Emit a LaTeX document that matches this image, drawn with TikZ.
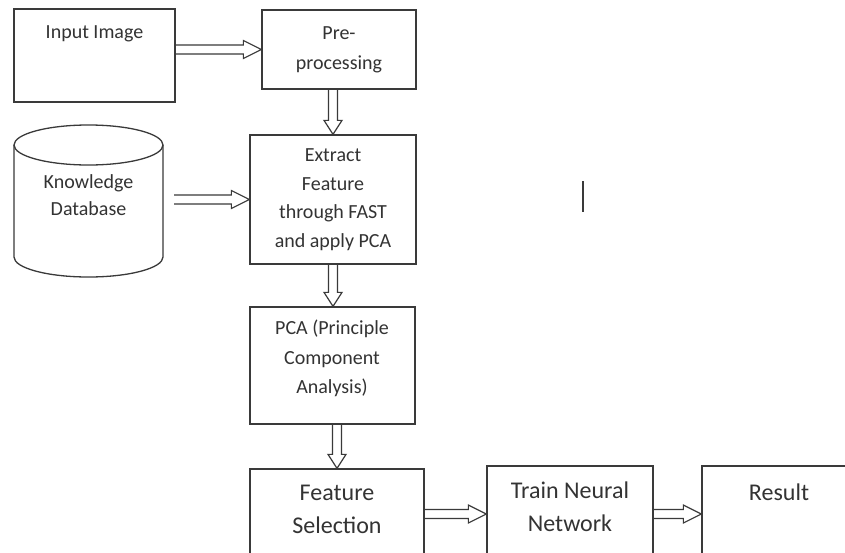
\documentclass[tikz,border=0pt]{standalone}
\usepackage{fontspec}
\setmainfont{Carlito}
\usetikzlibrary{calc}
\definecolor{ln}{HTML}{3A3A3A}
\definecolor{tx}{HTML}{333333}
\begin{document}
\begin{tikzpicture}[x=1pt,y=-1pt,
  box/.style={draw=ln, line width=1.3pt, inner sep=0pt},
  txt/.style={text=tx, font=\fontsize{20}{28.5}\selectfont, align=center, inner sep=0pt},
  big/.style={text=tx, font=\fontsize{24}{33}\selectfont, align=center, inner sep=0pt},
  arr/.style={draw=ln, line width=1.2pt, line join=miter},
  harrow/.style={to path={($(\tikztostart)+(0,-4.5)$) -- ($(\tikztotarget)+(-18,-4.5)$) -- ($(\tikztotarget)+(-18,-9)$) -- (\tikztotarget) -- ($(\tikztotarget)+(-18,9)$) -- ($(\tikztotarget)+(-18,4.5)$) -- ($(\tikztostart)+(0,4.5)$)}},
  varrow/.style={to path={($(\tikztostart)+(-4.5,0)$) -- ($(\tikztotarget)+(-4.5,-14)$) -- ($(\tikztotarget)+(-9,-14)$) -- (\tikztotarget) -- ($(\tikztotarget)+(9,-14)$) -- ($(\tikztotarget)+(4.5,-14)$) -- ($(\tikztostart)+(4.5,0)$)}}
]
\clip (0,0) rectangle (845,552);
\fill[white] (0,0) rectangle (845,552);

% boxes
\node[box, minimum width=161pt, minimum height=93pt] (in) at (94.5,55.5) {};
\node[txt] (inT) at (94.5,34) {Input Image};
\node[box, txt, minimum width=154pt, minimum height=79pt, font=\fontsize{20}{30}\selectfont] (pre) at (339,49.5) {Pre-\\processing};
\node[box, txt, minimum width=166pt, minimum height=129pt] (ext) at (333,199.5) {Extract\\Feature\\through FAST\\and apply PCA};

% knowledge database cylinder
\draw[box] (14,145) -- (14,257) arc[start angle=180, end angle=0, x radius=74.5, y radius=20] -- (163,145);
\draw[box] (88.5,145) ellipse [x radius=74.5, y radius=20];
\node[minimum width=149pt, minimum height=152pt, inner sep=0pt] (db) at (88.5,201) {};
\node[txt, font=\fontsize{20}{27}\selectfont] (dbT) at (88.5,195.5) {Knowledge\\Database};

\node[box, minimum width=165pt, minimum height=117pt] (pca) at (332.5,365.5) {};
\node[txt, font=\fontsize{20}{29.5}\selectfont] (pcaT) at (332,358.5) {PCA (Principle\\Component\\Analysis)};

\node[box, minimum width=174pt, minimum height=93pt] (fs) at (337,515.5) {};
\node[big] (fsT) at (337,509.5) {Feature\\Selection};
\node[box, minimum width=166pt, minimum height=96pt] (tnn) at (570,514) {};
\node[big] (tnnT) at (570,506.5) {Train Neural\\Network};
\node[box, minimum width=158pt, minimum height=96pt] (res) at (781,514) {};
\node[big] (resT) at (779,492) {Result};

% connectors
\draw[arr, harrow] (in.east |- pre.west) to (pre.west);
\draw[arr, varrow] (ext.north |- pre.south) to (ext.north);
\draw[arr, harrow] ([xshift=11pt]db.east |- ext.west) to (ext.west);
\draw[arr, varrow] (ext.south) to (ext.south |- pca.north);
\draw[arr, varrow] (fs.north |- pca.south) to (fs.north);
\draw[arr, harrow] (fs.east |- tnn.west) to (tnn.west);
\draw[arr, harrow] (tnn.east) to (res.west);

% stray mark
\draw[ln, line width=1.6pt] (583,181) -- (583,212);
\end{tikzpicture}
\end{document}
